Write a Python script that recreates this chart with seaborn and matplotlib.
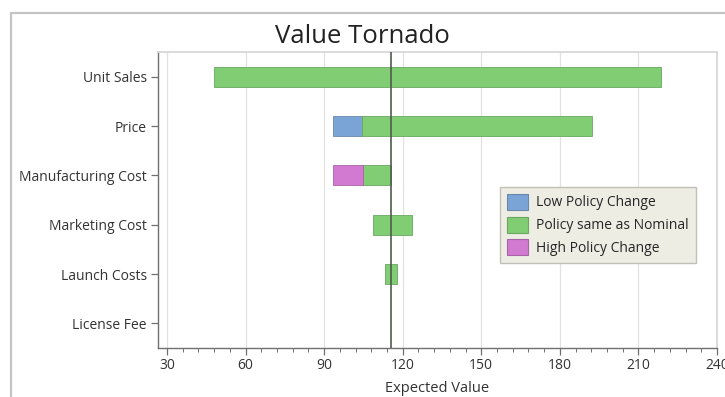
import numpy as np
import pandas as pd
import matplotlib
matplotlib.use("Agg")
import matplotlib.pyplot as plt
from matplotlib.patches import Patch, Rectangle
from matplotlib.ticker import MultipleLocator
import seaborn as sns

# Tornado inputs: expected value range for each uncertain factor
factors = ["Unit Sales", "Price", "Manufacturing Cost", "Marketing Cost",
           "Launch Costs", "License Fee"]
nominal_low = [48.0, 104.6, 105.0, 108.8, 113.4, 115.7]
nominal_high = [218.6, 192.2, 115.7, 123.7, 118.0, 115.7]
low_policy_low = [np.nan, 93.5, np.nan, np.nan, np.nan, np.nan]
low_policy_high = [np.nan, 104.6, np.nan, np.nan, np.nan, np.nan]
high_policy_low = [np.nan, np.nan, 93.5, np.nan, np.nan, np.nan]
high_policy_high = [np.nan, np.nan, 105.0, np.nan, np.nan, np.nan]
base_value = 115.7

series_names = ["Low Policy Change", "Policy same as Nominal", "High Policy Change"]
series_colors = ["#7ba4d6", "#80cd74", "#d27ad2"]
edge_colors = ["#6a86aa", "#6aa862", "#a863a8"]

segments = pd.DataFrame({
    "factor": factors * 3,
    "series": np.repeat(series_names, len(factors)),
    "start": low_policy_low + nominal_low + high_policy_low,
    "end": low_policy_high + nominal_high + high_policy_high,
})

sns.set_theme(style="white")
plt.rcParams["font.family"] = ["Open Sans", "DejaVu Sans"]

fig = plt.figure(figsize=(7.25, 3.97), dpi=100)
ax = fig.add_axes([0.218, 0.1234, 0.771, 0.7456])

# Grey frame around the whole chart
fig.patches.append(Rectangle((11 / 725, -0.05), 1.2, 1 - 13 / 397 + 0.05,
                             transform=fig.transFigure, fill=False,
                             edgecolor="#c4c4c4", linewidth=1.6, zorder=0))

for name, color, edge in zip(series_names, series_colors, edge_colors):
    sub = segments[segments["series"] == name].dropna()
    sub = sub.assign(width=sub["end"] - sub["start"])
    sub = sub[sub["width"] > 0]
    sub["pos"] = sub["factor"].map({f: i for i, f in enumerate(factors)})
    sub = sub.sort_values("pos")
    sns.barplot(data=sub, y="factor", x="width", order=factors, orient="h",
                left=sub["start"].to_numpy(), width=0.4, color=color,
                saturation=1, edgecolor=edge, linewidth=0.6, ax=ax, zorder=3)

ax.axvline(base_value, color="#4f5b4f", linewidth=1.2, zorder=4)

ax.set_xlim(26.6, 240)
ax.set_ylim(5.5, -0.5)
ax.xaxis.set_major_locator(MultipleLocator(30))
ax.xaxis.set_minor_locator(MultipleLocator(6))
ax.grid(axis="x", which="major", color="#e2e2e2", linewidth=0.9, zorder=0)
ax.set_axisbelow(True)

for side in ["top", "right"]:
    ax.spines[side].set_color("#d6d6d6")
for side in ["left", "bottom"]:
    ax.spines[side].set_color("#707070")
    ax.spines[side].set_linewidth(1.0)

ax.tick_params(axis="x", which="major", bottom=True, length=5, width=0.9,
               color="#707070", labelsize=10, labelcolor="#333333", pad=2)
ax.tick_params(axis="x", which="minor", bottom=True, length=3, width=0.7,
               color="#707070")
ax.tick_params(axis="y", left=True, length=5, width=0.9, color="#707070",
               labelsize=10, labelcolor="#333333", pad=3)

ax.set_ylabel("")
ax.set_xlabel("Expected Value", fontsize=10.5, color="#333333", labelpad=6)
fig.text(0.5, 0.908, "Value Tornado", ha="center", va="center",
         fontsize=18.5, color="#222222")

handles = [Patch(facecolor=c, edgecolor=e, linewidth=0.8)
           for c, e in zip(series_colors, edge_colors)]
leg = ax.legend(handles, series_names, loc="upper left",
                bbox_to_anchor=(0.612, 0.545), frameon=True, fancybox=False,
                fontsize=10, handlelength=1.5, handleheight=1.4,
                handletextpad=0.6, labelspacing=0.45, borderpad=0.5,
                borderaxespad=0)
leg.get_frame().set_facecolor("#ededE4")
leg.get_frame().set_edgecolor("#c0c0b8")
leg.get_frame().set_alpha(1)
leg.set_zorder(6)

fig.savefig("out.png", dpi=100)
